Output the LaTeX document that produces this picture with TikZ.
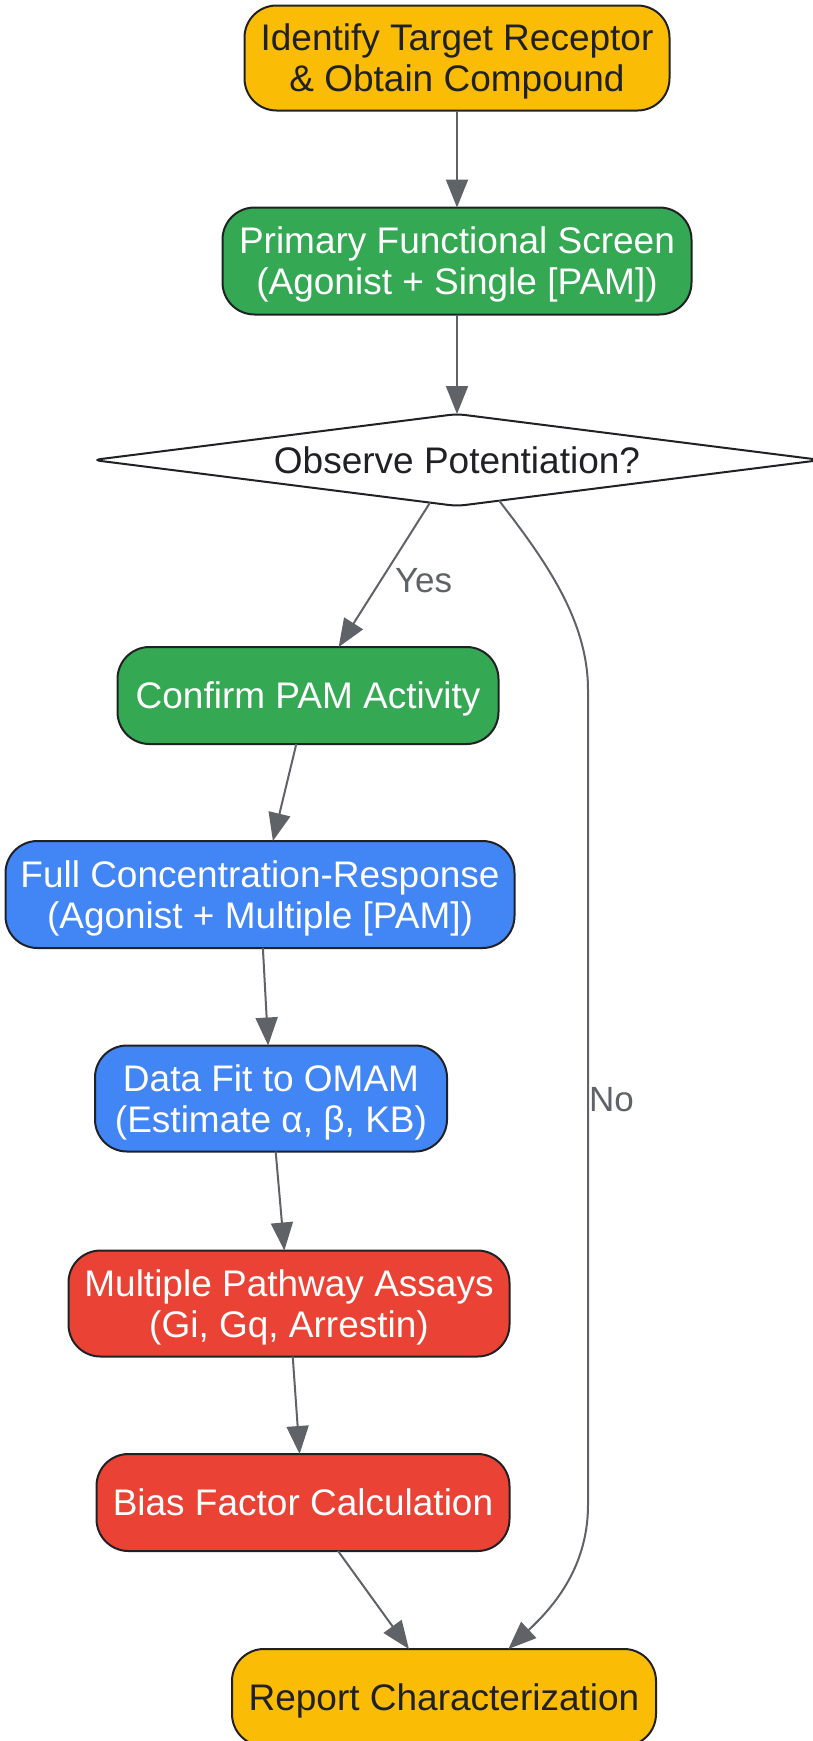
\documentclass[tikz,border=0pt]{standalone}
\usepackage{fontspec}
\setmainfont{Liberation Sans}
\usetikzlibrary{positioning}
\usetikzlibrary{shapes.geometric}
\usetikzlibrary{arrows.meta}

\definecolor{gyellow}{HTML}{FBBC05}
\definecolor{ggreen}{HTML}{34A853}
\definecolor{gblue}{HTML}{4285F4}
\definecolor{gred}{HTML}{EA4335}
\definecolor{ink}{HTML}{202124}
\definecolor{wire}{HTML}{5F6368}

\tikzset{
  stage/.style={draw=ink, line width=2pt, rounded corners=32pt, align=center,
    outer sep=0pt, text depth=0pt, inner xsep=6pt, inner ysep=4pt,
    font=\fontsize{37}{41}\selectfont},
  ends/.style={stage, fill=gyellow, text=ink},
  screen/.style={stage, fill=ggreen, text=white},
  analysis/.style={stage, fill=gblue, text=white},
  pathway/.style={stage, fill=gred, text=white},
  decision/.style={diamond, draw=ink, line width=2pt, fill=white, aspect=7.9,
    rounded corners=8pt, minimum width=728pt, minimum height=92pt, inner sep=2pt,
    outer sep=0pt, text depth=0pt, text=ink, font=\fontsize{37}{41}\selectfont},
  flow/.style={draw=wire, line width=2pt, -{Triangle[length=28pt,width=22pt]}},
  lbl/.style={text=wire, font=\fontsize{35}{40}\selectfont}
}

\begin{document}
\begin{tikzpicture}
	\useasboundingbox (0pt,0pt) rectangle (812pt,-1741pt);
	% nodes
	\node[ends, minimum width=425pt, minimum height=105pt] (identify) at (457pt,-58pt) {Identify Target Receptor\\\& Obtain Compound};%
	\node[screen, minimum width=469pt, minimum height=107pt, below=97pt of identify] (primary) {Primary Functional Screen\\(Agonist + Single [PAM])};%
	\node[decision, below=99.5pt of primary] (observe) {Observe Potentiation?};%
	\node[screen, minimum width=381pt, minimum height=97pt, below=141pt of observe, xshift=-149pt] (confirm) {Confirm PAM Activity};%
	\node[analysis, minimum width=509pt, minimum height=107pt, below=97pt of confirm, xshift=-48pt] (fullcr) {Full Concentration-Response\\(Agonist + Multiple [PAM])};%
	\node[analysis, minimum width=352pt, minimum height=106pt, below=97.5pt of fullcr, xshift=11pt] (omam) {Data Fit to OMAM\\(Estimate α, β, KB)};%
	\node[pathway, minimum width=441pt, minimum height=106pt, below=99pt of omam, xshift=18pt] (assays) {Multiple Pathway Assays\\(Gi, Gq, Arrestin)};%
	\node[pathway, minimum width=413pt, minimum height=97pt, below=97.5pt of assays, xshift=14pt] (bias) {Bias Factor Calculation};%
	\node[ends, minimum width=424pt, minimum height=97pt, below=98pt of bias, xshift=141pt] (report) {Report Characterization};%

	% bends of the No branch
	\coordinate (nobend1) at (588pt,-690pt);
	\coordinate (nobend2) at (588pt,-1505pt);

	% edges
	\draw[flow] (identify) -- (primary);
	\draw[flow] (primary) -- (observe);
	\draw[flow] (observe) -- node[lbl, pos=0.54, right=10pt] {Yes} (confirm);
	\draw[flow] (observe.-44) .. controls (545pt,-560pt) and (588pt,-620pt) .. (nobend1)
		-- node[lbl, pos=0.503, anchor=west, inner sep=0pt] {No} (nobend2)
		.. controls (588pt,-1570pt) and (550pt,-1610pt) .. (report.37);
	\draw[flow] (confirm) -- (fullcr);
	\draw[flow] (fullcr) -- (omam);
	\draw[flow] (omam) -- (assays);
	\draw[flow] (assays) -- (bias);
	\draw[flow] (bias) -- (report);
\end{tikzpicture}
\end{document}
